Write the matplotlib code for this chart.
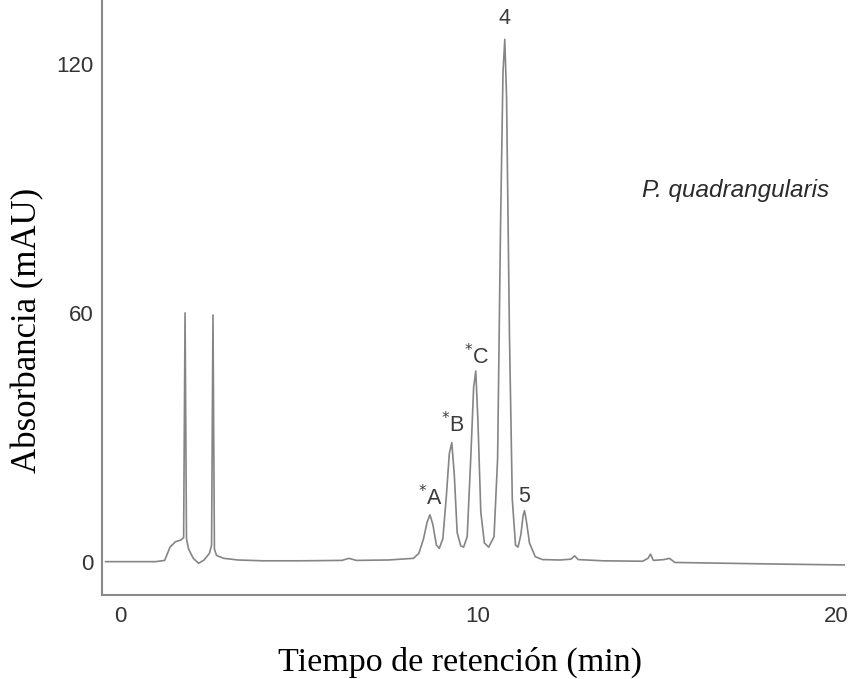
import matplotlib.pyplot as plt

# trace (time in min, absorbance in mAU)
tiempo = [-0.4, 1.0, 1.25, 1.4, 1.55, 1.7, 1.78, 1.82, 1.86, 1.92, 2.05, 2.2, 2.35, 2.5, 2.56,
          2.6, 2.64, 2.7, 2.9, 3.3, 4.0, 5.0, 6.2, 6.4, 6.6, 7.5, 8.2, 8.35, 8.48, 8.58,
          8.66, 8.74, 8.84, 8.92, 9.02, 9.12, 9.2, 9.27, 9.34, 9.42, 9.52, 9.6, 9.7, 9.8,
          9.88, 9.94, 10.0, 10.08, 10.18, 10.3, 10.45, 10.55, 10.63, 10.7, 10.75, 10.8,
          10.88, 10.96, 11.05, 11.12, 11.2, 11.26, 11.3, 11.35, 11.44, 11.6, 11.8, 12.3,
          12.6, 12.7, 12.8, 13.5, 14.6, 14.75, 14.82, 14.9, 15.2, 15.35, 15.5, 17.0, 18.5,
          20.25]
absorbancia = [0.0, 0.0, 0.3, 3.5, 4.8, 5.2, 5.8, 60.0, 5.5, 3.0, 0.8, -0.4, 0.4, 2.0, 4.0,
               59.5, 3.0, 1.5, 0.8, 0.4, 0.2, 0.2, 0.3, 0.8, 0.3, 0.4, 0.8, 2.0, 5.5, 9.5,
               11.3, 9.0, 4.0, 3.2, 5.5, 16.0, 26.0, 28.7, 21.0, 7.0, 3.8, 3.5, 6.0, 25.0,
               42.0, 46.0, 34.0, 12.0, 4.5, 3.5, 6.0, 25.0, 80.0, 118.0, 126.0, 112.0, 55.0,
               15.0, 4.0, 3.5, 6.5, 11.0, 12.3, 10.0, 4.5, 1.2, 0.5, 0.4, 0.6, 1.4, 0.5,
               0.2, 0.1, 0.8, 1.8, 0.3, 0.5, 0.8, -0.2, -0.4, -0.6, -0.8]

# peak labels: (text, time, absorbance)
etiquetas = ["4", "$^{*}$C", "$^{*}$B", "$^{*}$A", "5"]
etiqueta_t = [10.75, 9.95, 9.3, 8.66, 11.3]
etiqueta_y = [128.5, 46.5, 30.0, 12.5, 13.3]

y_ticks = [0, 60, 120]
x_ticks = [0, 10, 20]

fig = plt.figure(figsize=(8.5, 6.79), dpi=100)
ax = fig.add_axes([0.12, 0.124, 0.874, 0.876])

ax.plot(tiempo, absorbancia, color="#858585", linewidth=1.2)

for txt, t, y in zip(etiquetas, etiqueta_t, etiqueta_y):
  ax.text(t, y, txt, ha="center", va="bottom", fontsize=15.5, color="#3a3a3a",
          family="Liberation Sans")

ax.text(17.2, 89.5, "P. quadrangularis", ha="center", va="center", fontsize=17.5,
        style="italic", color="#2a2a2a", family="Liberation Sans")

ax.set_xlim(-0.5, 20.25)
ax.set_ylim(-8, 135.5)
ax.set_xticks(x_ticks)
ax.set_yticks(y_ticks)
ax.tick_params(length=0, labelsize=16, labelcolor="#333333", pad=8)
ax.tick_params(axis="y", pad=6)
for lab in ax.get_xticklabels() + ax.get_yticklabels():
  lab.set_family("Liberation Sans")

for s in ["top", "right"]:
  ax.spines[s].set_visible(False)
for s in ["left", "bottom"]:
  ax.spines[s].set_color("#8a8a8a")
  ax.spines[s].set_linewidth(1.5)

ax.set_xlabel("Tiempo de retención (min)", family="Liberation Serif", fontsize=24.5,
              va="center")
ax.set_ylabel("Absorbancia (mAU)", family="Liberation Serif", fontsize=25,
              va="center")
ax.xaxis.set_label_coords(0.482, -0.113)
ax.yaxis.set_label_coords(-0.1, 0.445)

fig.savefig("out.png", dpi=100)
